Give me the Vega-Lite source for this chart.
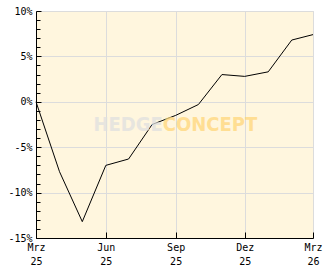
{
  "$schema": "https://vega.github.io/schema/vega-lite/v6.json",
  "width": 277,
  "height": 227,
  "autosize": "none",
  "padding": {"left": 36, "top": 11, "right": 19, "bottom": 31},
  "background": "#ffffff",
  "config": {
    "view": {"stroke": "#d9d9d9", "fill": "#FFF6DE", "strokeWidth": 1},
    "axis": {"labelFont": "DejaVu Sans Mono", "labelFontSize": 10, "labelColor": "#000000", "domainColor": "#000000", "tickColor": "#000000", "gridColor": "#dcdcdc", "title": null}
  },
  "datasets": {
    "perf": [
      {"date": "2025-03-01", "v": 0.0},
      {"date": "2025-04-01", "v": -7.7},
      {"date": "2025-05-01", "v": -13.2},
      {"date": "2025-06-01", "v": -7.0},
      {"date": "2025-07-01", "v": -6.3},
      {"date": "2025-08-01", "v": -2.5},
      {"date": "2025-09-01", "v": -1.5},
      {"date": "2025-10-01", "v": -0.3},
      {"date": "2025-11-01", "v": 3.0},
      {"date": "2025-12-01", "v": 2.8},
      {"date": "2026-01-01", "v": 3.3},
      {"date": "2026-02-01", "v": 6.8},
      {"date": "2026-03-01", "v": 7.4}
    ],
    "mark": [
      {"label": "HEDGE", "date": "2025-08-15", "v": -2.5, "part": "a"},
      {"label": "CONCEPT", "date": "2025-08-15", "v": -2.5, "part": "b"}
    ]
  },
  "layer": [
    {
      "data": {"name": "perf"},
      "mark": {"type": "line", "color": "#000000", "strokeWidth": 1, "opacity": 0},
      "encoding": {
        "x": {"field": "date", "type": "temporal", "scale": {"type": "utc", "domain": ["2025-03-01", "2026-03-01"]}},
        "y": {"field": "v", "type": "quantitative", "scale": {"domain": [-15, 10], "nice": false},
          "axis": {"orient": "left", "values": [-14,-13,-12,-11,-9,-8,-7,-6,-4,-3,-2,-1,1,2,3,4,6,7,8,9], "labels": false, "grid": false, "domain": false, "tickSize": -4}}
      }
    },
    {
      "data": {"name": "perf"},
      "mark": {"type": "line", "color": "#000000", "strokeWidth": 1},
      "encoding": {
        "x": {"field": "date", "type": "temporal", "scale": {"type": "utc", "domain": ["2025-03-01", "2026-03-01"]},
          "axis": {"values": ["2025-03-01", "2025-06-01", "2025-09-01", "2025-12-01", "2026-03-01"], "grid": true, "tickSize": -6, "labelPadding": 10, "labelAngle": 0, "labelAlign": "center", "labelBaseline": "top", "labelLineHeight": 14, "labelFlush": false, "labelOverlap": false,
            "labelExpr": "[['Jan','Feb','Mrz','Apr','Mai','Jun','Jul','Aug','Sep','Okt','Nov','Dez'][utcmonth(datum.value)], utcFormat(datum.value, '%y')]"}},
        "y": {"field": "v", "type": "quantitative", "scale": {"domain": [-15, 10], "nice": false},
          "axis": {"orient": "left", "values": [-15, -10, -5, 0, 5, 10], "grid": true, "tickSize": -5, "labelPadding": 9, "labelExpr": "datum.value + '%'"}}
      }
    },
    {
      "data": {"name": "mark"},
      "transform": [{"filter": "datum.part === 'a'"}],
      "mark": {"type": "text", "font": "DejaVu Sans Condensed", "fontWeight": "bold", "fontSize": 20, "baseline": "middle", "align": "right", "opacity": 0.75, "color": "#e0e0e0"},
      "encoding": {
        "x": {"field": "date", "type": "temporal"},
        "y": {"field": "v", "type": "quantitative", "axis": null},
        "text": {"field": "label"}
      }
    },
    {
      "data": {"name": "mark"},
      "transform": [{"filter": "datum.part === 'b'"}],
      "mark": {"type": "text", "font": "DejaVu Sans Condensed", "fontWeight": "bold", "fontSize": 20, "baseline": "middle", "align": "left", "opacity": 0.75, "color": "#ffd67a"},
      "encoding": {
        "x": {"field": "date", "type": "temporal"},
        "y": {"field": "v", "type": "quantitative", "axis": null},
        "text": {"field": "label"}
      }
    }
  ],
  "resolve": {"axis": {"y": "independent"}}
}
